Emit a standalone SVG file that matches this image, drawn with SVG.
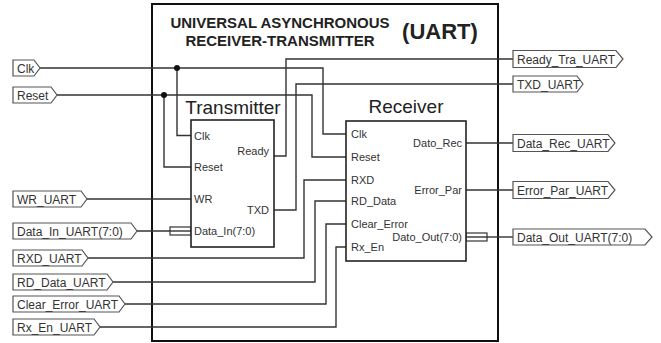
<svg xmlns="http://www.w3.org/2000/svg" width="661" height="343" viewBox="0 0 661 343">
<style>
text{font-family:"Liberation Sans",Arial,sans-serif;fill:#222}
.title{font-size:15px;font-weight:bold;text-anchor:middle}
.big{font-size:22px;font-weight:bold;text-anchor:middle}
.blk{font-size:19px;text-anchor:middle}
.pin{font-size:11px;fill:#333}
.pinr{font-size:11px;fill:#333;text-anchor:end}
.port{fill:#fff;stroke:#555;stroke-width:1.2}
.ptxt{font-size:12px;fill:#333}
.w{fill:none;stroke:#333;stroke-width:1.4}
.box{fill:#fff;stroke:#222;stroke-width:1.6}
.bus{fill:#fff;stroke:#333;stroke-width:1.2}
</style>
<rect width="661" height="343" fill="#fff"/>
<g id="uart">
<rect x="152" y="4" width="346" height="337" fill="none" stroke="#111" stroke-width="2"/>
<text class="title" x="280" y="28">UNIVERSAL ASYNCHRONOUS</text>
<text class="title" x="280" y="46">RECEIVER-TRANSMITTER</text>
<text class="big" x="440" y="39">(UART)</text>
</g>
<g id="connectors">
<path class="w" d="M40 68H323V134H346"/>
<path class="w" d="M177 68V135.5H191"/>
<path class="w" d="M57 95H312V157H346"/>
<path class="w" d="M164 95V167H191"/>
<path class="w" d="M274 156H286V59H513"/>
<path class="w" d="M274 210H296V84H513"/>
<path class="w" d="M87 199H191"/>
<path class="w" d="M137 231H191"/>
<rect class="bus" x="170" y="227" width="21" height="8"/>
<path class="w" d="M170 231H191"/>
<path class="w" d="M88 258H304V180H346"/>
<path class="w" d="M113 282H315V201H346"/>
<path class="w" d="M125 304H326V224H346"/>
<path class="w" d="M100 327H336V247H346"/>
<path class="w" d="M466 143H513"/>
<path class="w" d="M466 190H513"/>
<path class="w" d="M487 237H513"/>
<rect class="bus" x="466" y="233" width="21" height="8"/>
<path class="w" d="M466 237H487"/>
<circle cx="177" cy="68" r="3" fill="#111"/>
<circle cx="164" cy="95" r="3" fill="#111"/>
</g>
<g id="transmitter">
<text class="blk" x="233" y="114">Transmitter</text>
<rect class="box" x="191" y="120" width="83" height="127"/>
<text class="pin" x="194" y="139.5">Clk</text>
<text class="pin" x="194" y="171">Reset</text>
<text class="pin" x="194" y="203">WR</text>
<text class="pin" x="194" y="235">Data_In(7:0)</text>
<text class="pinr" x="269" y="155">Ready</text>
<text class="pinr" x="269" y="214">TXD</text>
</g>
<g id="receiver">
<text class="blk" x="406" y="113">Receiver</text>
<rect class="box" x="346" y="121" width="120" height="140"/>
<text class="pin" x="351" y="138">Clk</text>
<text class="pin" x="351" y="161">Reset</text>
<text class="pin" x="351" y="184">RXD</text>
<text class="pin" x="351" y="205">RD_Data</text>
<text class="pin" x="351" y="228">Clear_Error</text>
<text class="pin" x="351" y="251">Rx_En</text>
<text class="pinr" x="462" y="147">Dato_Rec</text>
<text class="pinr" x="462" y="194">Error_Par</text>
<text class="pinr" x="462" y="241">Dato_Out(7:0)</text>
</g>
<g id="port-clk"><polygon class="port" points="13,60 34,60 40,68 34,76 13,76"/><text class="ptxt" x="17" y="72.5">Clk</text></g>
<g id="port-reset"><polygon class="port" points="13,87 51,87 57,95 51,103 13,103"/><text class="ptxt" x="17" y="99.5">Reset</text></g>
<g id="port-wr"><polygon class="port" points="13,191 81,191 87,199 81,207 13,207"/><text class="ptxt" x="17" y="203.5">WR_UART</text></g>
<g id="port-datain"><polygon class="port" points="13,223 131,223 137,231 131,239 13,239"/><text class="ptxt" x="17" y="235.5">Data_In_UART(7:0)</text></g>
<g id="port-rxd"><polygon class="port" points="13,250 82,250 88,258 82,266 13,266"/><text class="ptxt" x="17" y="262.5">RXD_UART</text></g>
<g id="port-rddata"><polygon class="port" points="13,274 107,274 113,282 107,290 13,290"/><text class="ptxt" x="17" y="286.5">RD_Data_UART</text></g>
<g id="port-clearerror"><polygon class="port" points="13,296 119,296 125,304 119,312 13,312"/><text class="ptxt" x="17" y="308.5">Clear_Error_UART</text></g>
<g id="port-rxen"><polygon class="port" points="13,319 94,319 100,327 94,335 13,335"/><text class="ptxt" x="17" y="331.5">Rx_En_UART</text></g>
<g id="port-ready"><polygon class="port" points="513,50.5 616,50.5 623,59 616,67.5 513,67.5"/><text class="ptxt" x="517" y="63.5">Ready_Tra_UART</text></g>
<g id="port-txd"><polygon class="port" points="513,76 577,76 583,84 577,92 513,92"/><text class="ptxt" x="517" y="88.5">TXD_UART</text></g>
<g id="port-datarec"><polygon class="port" points="513,134.5 608,134.5 615,143 608,151.5 513,151.5"/><text class="ptxt" x="517" y="147.5">Data_Rec_UART</text></g>
<g id="port-errorpar"><polygon class="port" points="513,181.5 608,181.5 615,190 608,198.5 513,198.5"/><text class="ptxt" x="517" y="194.5">Error_Par_UART</text></g>
<g id="port-dataout"><polygon class="port" points="513,229 645,229 652,237 645,245 513,245"/><text class="ptxt" x="517" y="241.5">Data_Out_UART(7:0)</text></g>
</svg>
